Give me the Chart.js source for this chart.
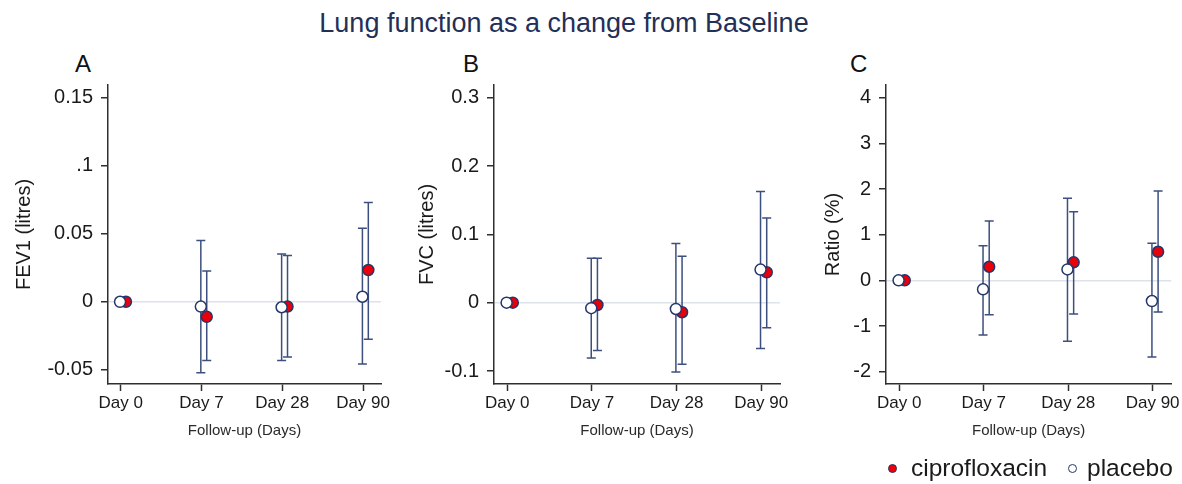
<!DOCTYPE html>
<html>
<head>
<meta charset="utf-8">
<title>Lung function as a change from Baseline</title>
<script src="https://cdn.jsdelivr.net/npm/chart.js@4.4.1/dist/chart.umd.min.js"></script>
<style>
    html, body {
        margin: 0;
        padding: 0;
        background: #ffffff;
        font-family: 'Liberation Sans', Arial, sans-serif;
    }
    #page {
        position: relative;
        width: 1182px;
        height: 484px;
        overflow: hidden;
    }
    .panel {
        position: absolute;
        top: 40px;
        height: 420px;
    }
    #main-title {
        position: absolute;
        top: 10px;
        left: 0;
        width: 1128px;
        text-align: center;
        font-size: 27px;
        line-height: 1;
        color: #232f57;
    }
    .letter {
        position: absolute;
        top: 52px;
        font-size: 24px;
        line-height: 1;
        color: #111;
    }
    .legend-text {
        position: absolute;
        top: 456px;
        font-size: 24.5px;
        line-height: 1;
        color: #1a1a1a;
    }
    .legend-dot {
        position: absolute;
        width: 7px;
        height: 7px;
        border: 1.5px solid #23376a;
        border-radius: 50%;
    }
</style>
</head>
<body>
<div id="page">
    <div id="main-title">Lung function as a change from Baseline</div>

    <div class="letter" style="left:75px">A</div>
    <div class="letter" style="left:463px">B</div>
    <div class="letter" style="left:850px">C</div>

    <div class="panel" style="left:0;width:400px"><canvas id="chartA" width="400" height="420"></canvas></div>
    <div class="panel" style="left:400px;width:400px"><canvas id="chartB" width="400" height="420"></canvas></div>
    <div class="panel" style="left:790px;width:392px"><canvas id="chartC" width="392" height="420"></canvas></div>

    <div class="legend-dot" style="left:888px;top:464px;background:#e8000b"></div>
    <div class="legend-text" style="left:911px">ciprofloxacin</div>
    <div class="legend-dot" style="left:1068px;top:464px;background:#ffffff"></div>
    <div class="legend-text" style="left:1087px">placebo</div>
</div>

<script>
// Follow-up visits (x axis categories)
const visits = ['Day 0', 'Day 7', 'Day 28', 'Day 90'];

// A: FEV1 (litres), change from baseline
const fev1Placebo = [0, -0.0035, -0.004, 0.0037];
const fev1PlaceboLo = [null, -0.052, -0.043, -0.0456];
const fev1PlaceboHi = [null, 0.045, 0.035, 0.054];
const fev1Cipro = [0, -0.011, -0.0035, 0.0233];
const fev1CiproLo = [null, -0.043, -0.0405, -0.0275];
const fev1CiproHi = [null, 0.0225, 0.034, 0.0728];
const fev1Ticks = [-0.05, 0, 0.05, 0.1, 0.15];
const fev1TickLabels = ['-0.05', '0', '0.05', '.1', '0.15'];

// B: FVC (litres)
const fvcPlacebo = [0, -0.008, -0.0092, 0.0485];
const fvcPlaceboLo = [null, -0.081, -0.1015, -0.067];
const fvcPlaceboHi = [null, 0.065, 0.0866, 0.1626];
const fvcCipro = [0, -0.0034, -0.014, 0.0445];
const fvcCiproLo = [null, -0.070, -0.090, -0.0367];
const fvcCiproHi = [null, 0.065, 0.068, 0.124];
const fvcTicks = [-0.1, 0, 0.1, 0.2, 0.3];
const fvcTickLabels = ['-0.1', '0', '0.1', '0.2', '0.3'];

// C: FEV1/FVC ratio (%)
const ratioPlacebo = [0, -0.197, 0.24, -0.453];
const ratioPlaceboLo = [null, -1.197, -1.335, -1.678];
const ratioPlaceboHi = [null, 0.757, 1.80, 0.81];
const ratioCipro = [0, 0.298, 0.394, 0.626];
const ratioCiproLo = [null, -0.753, -0.737, -0.694];
const ratioCiproHi = [null, 1.30, 1.50, 1.954];
const ratioTicks = [-2, -1, 0, 1, 2, 3, 4];
const ratioTickLabels = ['-2', '-1', '0', '1', '2', '3', '4'];

const FONT = "'Liberation Sans', Arial, sans-serif";
const NAVY = '#23376a';
const BAR_COLOR = '#3d4f7e';
const AXIS_COLOR = '#2e2e2e';
const RED = '#e8000b';

// placebo sits on the tick, ciprofloxacin is nudged right
const PLACEBO_DX = -0.008;
const CIPRO_DX = 0.065;

// draws the confidence intervals under the markers
const errorBars = {
    id: 'errorBars',
    beforeDatasetsDraw(chart) {
        const { ctx, scales: { x, y } } = chart;
        const cap = 4.5;
        ctx.save();
        ctx.strokeStyle = BAR_COLOR;
        ctx.lineWidth = 1.5;
        chart.data.datasets.forEach(ds => {
            ds.data.forEach(p => {
                if (p.lo == null || p.hi == null) return;
                const px = x.getPixelForValue(p.x);
                const top = y.getPixelForValue(p.hi);
                const bot = y.getPixelForValue(p.lo);
                ctx.beginPath();
                ctx.moveTo(px, top); ctx.lineTo(px, bot);
                ctx.moveTo(px - cap, top); ctx.lineTo(px + cap, top);
                ctx.moveTo(px - cap, bot); ctx.lineTo(px + cap, bot);
                ctx.stroke();
            });
        });
        ctx.restore();
    }
};

function toPoints(means, lo, hi, dx) {
    return means.map((m, i) => ({ x: i + dx, y: m, lo: lo[i], hi: hi[i] }));
}

function makePanel(id, p) {
    const ctx = document.getElementById(id).getContext('2d');
    return new Chart(ctx, {
        type: 'scatter',
        data: {
            datasets: [
                {
                    label: 'placebo',
                    data: toPoints(p.placebo, p.placeboLo, p.placeboHi, PLACEBO_DX),
                    backgroundColor: '#ffffff',
                    borderColor: NAVY,
                    borderWidth: 1.5,
                    pointRadius: 5.5,
                    pointHoverRadius: 5.5
                },
                {
                    label: 'ciprofloxacin',
                    data: toPoints(p.cipro, p.ciproLo, p.ciproHi, CIPRO_DX),
                    backgroundColor: RED,
                    borderColor: NAVY,
                    borderWidth: 1.5,
                    pointRadius: 5.5,
                    pointHoverRadius: 5.5
                }
            ]
        },
        options: {
            responsive: false,
            animation: false,
            events: [],
            layout: { padding: { top: 45, right: p.padRight, bottom: 0, left: 0 } },
            plugins: {
                legend: { display: false },
                tooltip: { enabled: false }
            },
            scales: {
                x: {
                    type: 'linear',
                    min: -0.157,
                    max: 3.222,
                    afterBuildTicks: scale => { scale.ticks = visits.map((_, i) => ({ value: i })); },
                    afterFit: scale => { scale.height = 76; },
                    ticks: {
                        callback: (v, i) => visits[i],
                        color: '#1a1a1a',
                        font: { family: FONT, size: 17 },
                        padding: 2,
                        maxRotation: 0
                    },
                    grid: {
                        drawOnChartArea: false,
                        tickLength: 7,
                        tickColor: AXIS_COLOR,
                        tickWidth: 1.5
                    },
                    border: { color: AXIS_COLOR, width: 1.5 },
                    title: {
                        display: true,
                        text: 'Follow-up (Days)',
                        color: '#2a2a2a',
                        font: { family: FONT, size: 15 },
                        padding: { top: 0, bottom: 20 }
                    }
                },
                y: {
                    min: p.yMin,
                    max: p.yMax,
                    afterBuildTicks: scale => { scale.ticks = p.ticks.map(v => ({ value: v })); },
                    afterFit: scale => { scale.width = p.axisWidth; },
                    ticks: {
                        callback: (v, i) => p.tickLabels[i],
                        color: '#1a1a1a',
                        font: { family: FONT, size: 20 },
                        padding: 8
                    },
                    grid: {
                        drawOnChartArea: true,
                        color: c => (c.tick && c.tick.value === 0) ? '#dde2eb' : 'rgba(0,0,0,0)',
                        lineWidth: 1.5,
                        tickLength: 7,
                        tickColor: AXIS_COLOR,
                        tickWidth: 1.5
                    },
                    border: { color: AXIS_COLOR, width: 1.5 },
                    title: {
                        display: true,
                        text: p.yTitle,
                        color: '#1a1a1a',
                        font: { family: FONT, size: 20 },
                        padding: { top: p.titlePad, bottom: 0 }
                    }
                }
            }
        },
        plugins: [errorBars]
    });
}

makePanel('chartA', {
    placebo: fev1Placebo, placeboLo: fev1PlaceboLo, placeboHi: fev1PlaceboHi,
    cipro: fev1Cipro, ciproLo: fev1CiproLo, ciproHi: fev1CiproHi,
    ticks: fev1Ticks, tickLabels: fev1TickLabels,
    yMin: -0.0603, yMax: 0.159,
    yTitle: 'FEV1 (litres)',
    axisWidth: 108, padRight: 19, titlePad: 12
});

makePanel('chartB', {
    placebo: fvcPlacebo, placeboLo: fvcPlaceboLo, placeboHi: fvcPlaceboHi,
    cipro: fvcCipro, ciproLo: fvcCiproLo, ciproHi: fvcCiproHi,
    ticks: fvcTicks, tickLabels: fvcTickLabels,
    yMin: -0.119, yMax: 0.3186,
    yTitle: 'FVC (litres)',
    axisWidth: 94, padRight: 20, titlePad: 15
});

makePanel('chartC', {
    placebo: ratioPlacebo, placeboLo: ratioPlaceboLo, placeboHi: ratioPlaceboHi,
    cipro: ratioCipro, ciproLo: ratioCiproLo, ciproHi: ratioCiproHi,
    ticks: ratioTicks, tickLabels: ratioTickLabels,
    yMin: -2.27, yMax: 4.278,
    yTitle: 'Ratio (%)',
    axisWidth: 96, padRight: 4, titlePad: 31
});
</script>
</body>
</html>
